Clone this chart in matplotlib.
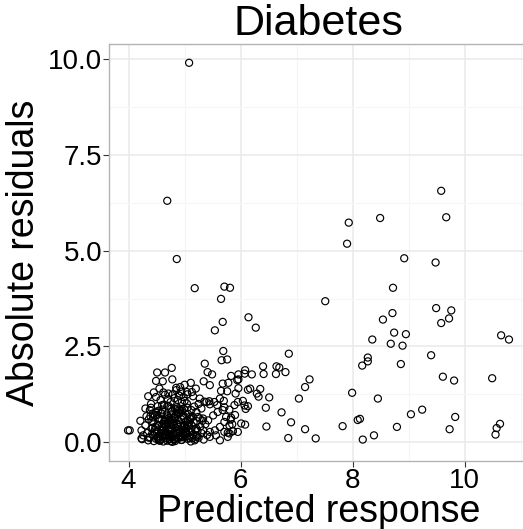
import matplotlib
matplotlib.use("Agg")
import matplotlib.pyplot as plt
from matplotlib.ticker import MultipleLocator

plt.rcParams["font.family"] = ["Liberation Sans", "DejaVu Sans"]

# predicted response (x) and absolute residual (y)
# sparse points, mostly at high predicted values
pred_sparse = [5.08, 4.69, 4.86, 5.18, 5.71, 5.81, 5.65, 6.14, 5.68, 6.27, 5.54,
               9.58, 7.93, 8.49, 9.67, 7.90, 8.92, 9.48, 8.72, 8.54, 8.71, 9.49,
               9.76, 9.72, 9.58, 8.74, 8.95, 8.35, 10.65, 10.79, 8.68, 8.89, 8.27,
               8.27, 8.17, 9.40, 8.86, 9.61, 9.81, 10.49, 7.99, 8.45, 9.24, 9.04,
               8.09, 8.13, 7.82, 8.79, 9.83, 9.73, 8.38, 8.18, 10.63, 10.57, 10.55,
               7.51, 6.86, 6.40, 6.64, 6.69, 6.08, 6.07, 5.96, 5.83, 6.20, 6.41,
               6.63, 6.80, 5.96, 7.23, 7.15, 5.96, 6.17, 6.13, 6.35, 6.29, 6.32,
               5.91, 6.51, 7.04, 5.95, 6.04, 5.89, 6.07, 6.13, 6.09, 6.45, 6.73,
               5.90, 5.82, 6.90, 6.01, 6.08, 5.85, 6.46, 7.15, 5.86, 6.85, 7.34]
resid_sparse = [9.90, 6.30, 4.78, 4.02, 4.06, 4.03, 3.74, 3.26, 3.14, 2.99, 2.92,
                6.56, 5.73, 5.85, 5.87, 5.18, 4.80, 4.69, 4.03, 3.20, 3.37, 3.50,
                3.44, 3.23, 3.11, 2.86, 2.82, 2.68, 2.79, 2.68, 2.57, 2.52, 2.21,
                2.11, 2.00, 2.27, 2.04, 1.71, 1.61, 1.67, 1.29, 1.14, 0.85, 0.73,
                0.58, 0.61, 0.42, 0.40, 0.66, 0.34, 0.18, 0.07, 0.48, 0.37, 0.20,
                3.68, 2.31, 1.98, 1.98, 1.95, 1.88, 1.79, 1.77, 1.73, 1.77, 1.78,
                1.78, 1.83, 1.64, 1.64, 1.44, 1.41, 1.40, 1.37, 1.39, 1.27, 1.19,
                1.27, 1.17, 1.14, 1.05, 1.08, 0.97, 0.96, 0.94, 0.87, 0.90, 0.78,
                0.71, 0.59, 0.52, 0.49, 0.46, 0.47, 0.41, 0.34, 0.29, 0.11, 0.10]

# the crowded cluster at low predicted values
pred_cluster = [5.69, 5.66, 5.76, 5.36, 4.77, 4.51, 4.65, 4.49, 4.61, 4.78, 5.41,
                5.49, 5.34, 5.45, 5.11, 4.92, 5.68, 5.78, 5.94, 5.76, 5.65, 4.85,
                4.94, 5.04, 5.13, 4.71, 4.79, 4.65, 4.49, 4.57, 4.88, 5.00, 5.04,
                5.27, 5.35, 5.44, 5.53, 5.63, 5.70, 5.58, 5.71, 5.80, 4.30, 4.38,
                4.43, 4.32, 4.21, 4.23, 4.23, 4.26, 3.99, 4.02, 5.12, 5.21, 5.30,
                5.39, 5.45, 5.24, 5.33, 5.42, 5.51, 5.59, 5.68, 5.74, 5.83, 5.71,
                5.80, 5.63, 5.54, 5.45, 5.33, 5.21, 5.09, 5.18, 5.45, 5.56, 5.71,
                5.80, 5.77, 5.95, 5.63, 5.77, 5.86, 4.24,
                4.35, 4.42, 4.48, 4.52, 4.55, 4.58, 4.60, 4.62, 4.64, 4.66, 4.68,
                4.70, 4.71, 4.73, 4.74, 4.76, 4.77, 4.79, 4.80, 4.81, 4.83, 4.84,
                4.85, 4.86, 4.88, 4.89, 4.90, 4.92, 4.93, 4.95, 4.96, 4.97, 4.99,
                5.00, 5.02, 5.03, 5.05, 5.06, 5.08, 5.10, 5.11, 5.13, 5.15, 5.17,
                5.19, 5.22, 5.25, 5.28, 5.30, 5.34, 5.37, 5.40,
                4.30, 4.33, 4.36, 4.38, 4.40, 4.41, 4.44, 4.45, 4.47, 4.50, 4.53,
                4.54, 4.57, 4.59, 4.61, 4.63, 4.65, 4.67, 4.69, 4.72,
                4.75, 4.82, 4.90, 4.98, 5.05, 4.70, 4.62, 4.55, 4.85, 5.00, 5.20,
                5.15, 4.95, 5.25, 4.40, 4.35, 4.45,
                4.56, 4.68, 4.74, 4.87, 4.91, 4.98, 5.07, 5.14, 4.78, 4.82, 4.94,
                5.01, 4.66, 4.59, 4.72, 4.86, 5.09, 4.52, 4.44, 4.97, 5.16, 5.23,
                4.80, 4.88, 4.76, 5.03, 4.63, 4.70, 4.93, 5.12, 4.57, 4.83, 5.19,
                5.27, 4.49, 4.91, 4.67, 5.06,
                4.36, 4.41, 4.46, 4.51, 4.56, 4.61, 4.66, 4.71, 4.76, 4.81, 4.86,
                4.91, 4.96, 5.01, 5.06, 4.39, 4.44, 4.49, 4.54, 4.59, 4.64, 4.69,
                4.74, 4.79, 4.84, 4.89, 4.94, 4.99, 5.04, 5.09, 4.47, 4.53, 4.58,
                4.63, 4.68, 4.73, 4.78, 4.83, 4.88, 4.93, 4.98, 5.03, 5.08, 5.14,
                5.21, 4.60, 4.70, 4.80, 4.90, 5.00, 4.65, 4.75, 4.85, 4.95, 5.05,
                4.43, 4.52, 4.62, 4.72, 4.82, 4.92, 5.02, 5.12, 5.22, 5.32]
resid_cluster = [2.38, 2.14, 2.16, 2.05, 1.94, 1.82, 1.82, 1.60, 1.59, 1.64, 1.83,
                 1.77, 1.59, 1.49, 1.55, 1.44, 1.53, 1.55, 1.62, 1.33, 1.34, 1.36,
                 1.32, 1.31, 1.31, 1.27, 1.25, 1.24, 1.18, 1.10, 1.10, 1.08, 1.01,
                 1.14, 1.06, 1.07, 1.05, 1.14, 1.08, 0.97, 0.91, 0.85, 0.88, 0.84,
                 0.75, 0.68, 0.56, 0.31, 0.10, 0.18, 0.31, 0.31, 0.84, 0.79, 0.88,
                 1.05, 0.99, 0.66, 0.62, 0.57, 0.70, 0.79, 0.84, 0.66, 0.64, 0.53,
                 0.44, 0.40, 0.31, 0.27, 0.31, 0.18, 0.10, 0.05, 0.14, 0.18, 0.27,
                 0.23, 0.14, 0.27, 0.05, 0.25, 0.29, 0.08,
                 0.05, 0.22, 0.40, 0.12, 0.63, 0.30, 0.85, 0.02, 0.48, 0.19, 0.72,
                 0.35, 0.95, 0.08, 0.56, 0.27, 0.81, 0.14, 0.44, 0.66, 0.03, 0.38,
                 0.91, 0.22, 0.58, 0.11, 0.77, 0.32, 0.49, 0.06, 0.69, 0.25, 0.87,
                 0.17, 0.53, 0.36, 0.09, 0.74, 0.28, 0.61, 0.02, 0.43, 0.20, 0.93,
                 0.33, 0.55, 0.12, 0.41, 0.24, 0.07, 0.47, 0.19,
                 0.44, 0.24, 0.60, 0.13, 0.90, 0.36, 0.52, 0.03, 0.70, 0.27, 0.82,
                 0.45, 0.07, 0.58, 0.33, 0.98, 0.15, 0.42, 0.04, 0.63,
                 1.05, 1.15, 1.22, 1.18, 1.25, 1.12, 1.30, 1.40, 1.42, 1.50, 1.40,
                 1.20, 1.05, 1.00, 1.00, 1.20, 1.30,
                 0.16, 0.10, 0.31, 0.47, 0.14, 0.40, 0.46, 0.68, 0.58, 0.07, 0.60,
                 0.29, 0.54, 0.75, 0.17, 0.86, 0.15, 0.94, 0.65, 0.13, 0.52, 0.30,
                 0.20, 0.34, 0.73, 0.22, 0.37, 0.50, 0.78, 0.33, 0.21, 0.64, 0.09,
                 0.62, 0.09, 0.16, 0.26, 0.43,
                 0.12, 0.55, 0.28, 0.71, 0.04, 0.39, 0.62, 0.21, 0.88, 0.09, 0.47,
                 0.26, 0.83, 0.35, 0.57, 0.68, 0.18, 0.79, 0.05, 0.42, 0.27, 0.94,
                 0.14, 0.51, 0.31, 0.74, 0.06, 0.45, 0.23, 0.66, 0.33, 0.09, 0.76,
                 0.48, 0.20, 0.59, 0.01, 0.87, 0.40, 0.13, 0.69, 0.26, 0.52, 0.11,
                 0.36, 0.97, 0.68, 0.23, 0.85, 0.42, 0.57, 0.03, 0.73, 0.18, 0.90,
                 0.38, 0.61, 0.17, 0.49, 0.07, 0.84, 0.29, 0.64, 0.15, 0.56]

pred = pred_sparse + pred_cluster
resid = resid_sparse + resid_cluster

fig = plt.figure(figsize=(5.23, 5.29), dpi=100)
ax = fig.add_axes([0.2084, 0.1285, 0.8012, 0.7883])

ax.scatter(pred, resid, s=26, facecolors="none", edgecolors="black",
           linewidths=0.85, zorder=3)

ax.set_xlim(3.65, 11.13)
ax.set_ylim(-0.49, 10.39)
ax.xaxis.set_major_locator(MultipleLocator(2))
ax.xaxis.set_minor_locator(MultipleLocator(1))
ax.yaxis.set_major_locator(MultipleLocator(2.5))
ax.yaxis.set_minor_locator(MultipleLocator(1.25))
ax.yaxis.set_major_formatter(plt.FuncFormatter(lambda v, p: f"{v:.1f}"))

ax.grid(which="major", color="#EBEBEB", lw=1.2, zorder=0)
ax.grid(which="minor", color="#F5F5F5", lw=0.8, zorder=0)
ax.set_axisbelow(True)

for side in ["left", "top", "bottom"]:
    ax.spines[side].set_color("#B3B3B3")
    ax.spines[side].set_linewidth(1.0)
ax.spines["right"].set_visible(False)

ax.tick_params(which="major", length=4, width=0.8, color="#333333",
               labelsize=20, pad=1, labelcolor="black")
ax.tick_params(which="minor", length=0)

ax.set_xlabel("Predicted response", fontsize=27, labelpad=0)
ax.set_ylabel("Absolute residuals", fontsize=27, labelpad=4)
ax.set_title("Diabetes", fontsize=31, pad=1)

fig.savefig("out.png", dpi=100)
